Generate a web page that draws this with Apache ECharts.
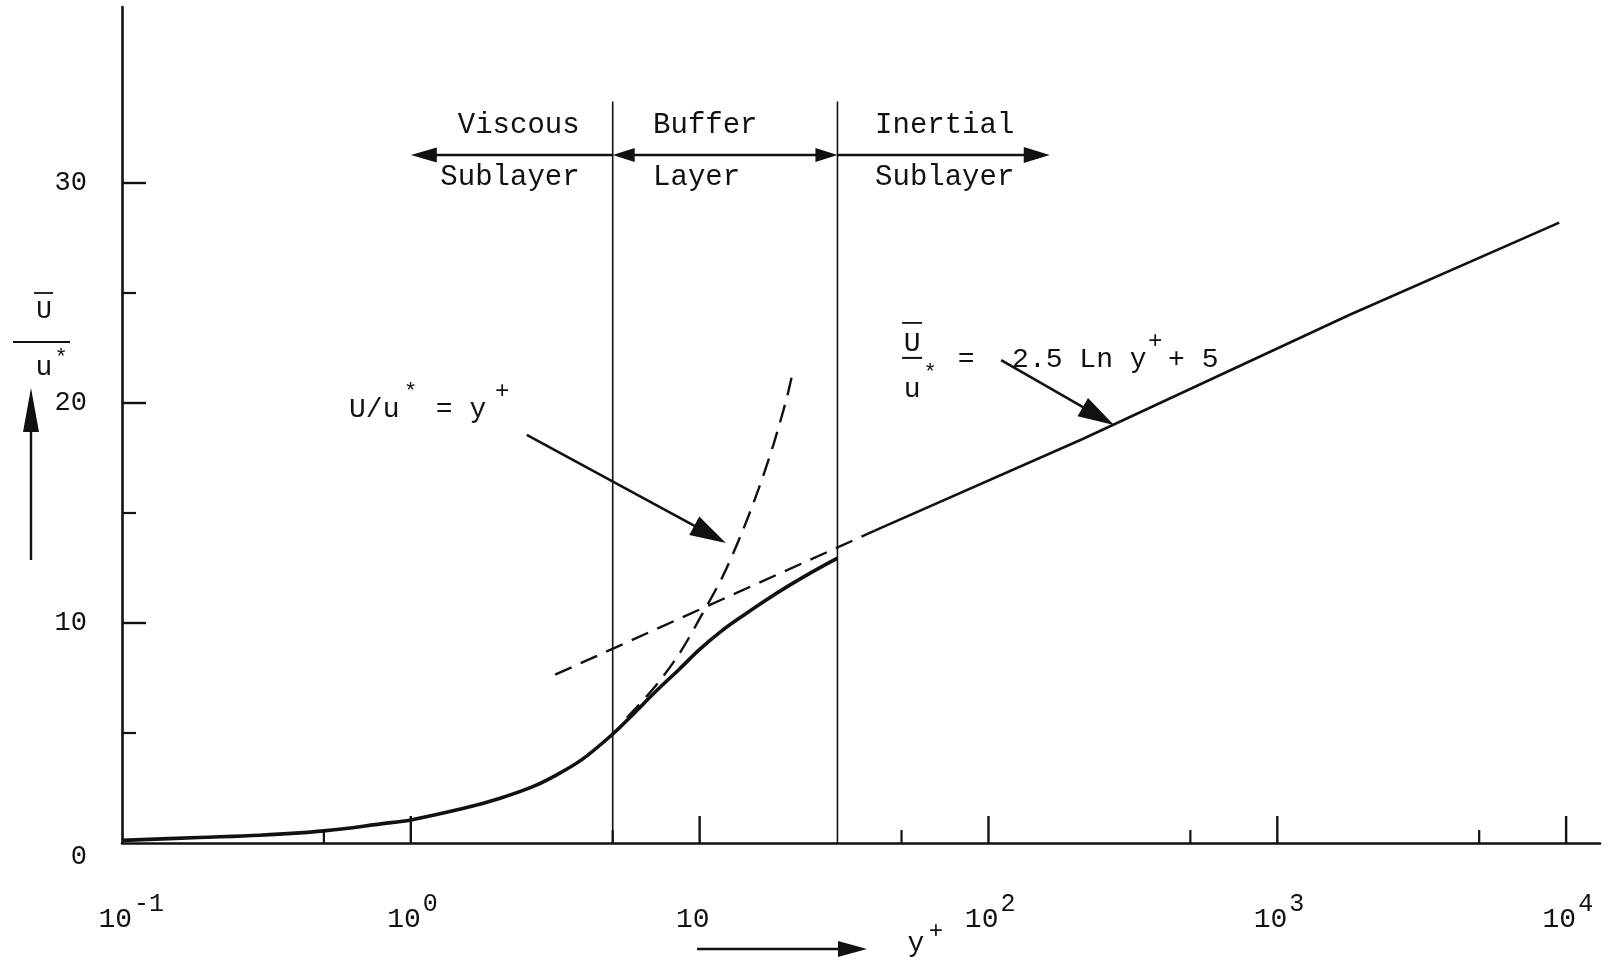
<!DOCTYPE html>
<html>
<head>
<meta charset="utf-8">
<script src="https://cdn.jsdelivr.net/npm/echarts@6/dist/echarts.min.js"></script>
<style>
  html, body { margin: 0; padding: 0; background: #fff; }
  #chart { width: 1616px; height: 966px; }
</style>
</head>
<body>
<div id="chart"></div>
<script>
// Mean velocity profile near a smooth wall: U/u* against y+ on a semi-log plot.

// Profile through the viscous sublayer and buffer layer
const profileYPlus = [0.1, 0.185, 0.3, 0.5, 0.8, 1.0, 1.55, 2.0, 2.63, 3.2, 3.92, 5.0, 5.83, 7.0, 8.5, 10.0, 11.8, 14.0, 17.0, 20.5, 25.0, 30.0];
const profileU     = [0.12, 0.25, 0.35, 0.55, 0.88, 1.05, 1.6, 2.0, 2.55, 3.1, 3.8, 4.95, 5.8, 6.85, 7.9, 8.8, 9.6, 10.3, 11.05, 11.72, 12.38, 12.95];

// Log law U/u* = 2.5 ln y+ + 5 (dashed extension, then solid)
const logLawDashYPlus = [3.16, 40.4];
const logLawDashU     = [7.65, 14.2];
const logLawYPlus = [40.4, 211, 1774, 9465];
const logLawU     = [14.2, 18.35, 24.0, 28.2];

// Linear law U/u* = y+ carried into the buffer layer
const linearLawYPlus = [5.6, 7.0, 8.5, 10.2, 12.0, 14.0, 16.0, 18.0, 20.0, 21.0];
const linearLawU     = [5.7, 7.1, 8.6, 10.4, 12.1, 14.1, 16.1, 18.1, 20.2, 21.4];

// Layer boundaries in y+
const regionBounds = [5, 30];
const regionNames = [['Viscous', 'Sublayer'], ['Buffer', 'Layer'], ['Inertial', 'Sublayer']];

// Axis ticks and labels
const xDecades = [0.1, 1, 10, 100, 1000, 10000];
const xHalfDecades = [0.5, 5, 50, 500, 5000];
const yMajorTicks = [10, 20, 30];
const yMinorTicks = [5, 15, 25];
const yLabels = [0, 10, 20, 30];

const INK = '#111';
const FONT = '"Liberation Mono", "DejaVu Sans Mono", monospace';

const zip = (xs, ys) => xs.map((x, i) => [x, ys[i]]);

function txt(t, x, y, size, align, vAlign) {
  return {
    type: 'text',
    style: {
      text: t, x: x, y: y, fill: INK, fontSize: size, fontFamily: FONT,
      align: align, textAlign: align, verticalAlign: vAlign, textVerticalAlign: vAlign
    }
  };
}
function seg(a, b, w) {
  return { type: 'line', shape: { x1: a[0], y1: a[1], x2: b[0], y2: b[1] },
           style: { stroke: INK, lineWidth: w, fill: null } };
}
function head(tip, ux, uy, len, wid) {
  const bx = tip[0] - ux * len, by = tip[1] - uy * len;
  return { type: 'polygon',
           shape: { points: [[tip[0], tip[1]], [bx - uy * wid / 2, by + ux * wid / 2], [bx + uy * wid / 2, by - ux * wid / 2]] },
           style: { fill: INK } };
}
// arrow from a to b, head at b (and optionally at a)
function arrow(els, a, b, len, wid, lw, both) {
  const dx = b[0] - a[0], dy = b[1] - a[1], L = Math.hypot(dx, dy);
  const ux = dx / L, uy = dy / L;
  const s = both ? [a[0] + ux * len * 0.7, a[1] + uy * len * 0.7] : a;
  const e = [b[0] - ux * len * 0.7, b[1] - uy * len * 0.7];
  els.push(seg(s, e, lw));
  els.push(head(b, ux, uy, len, wid));
  if (both) els.push(head(a, -ux, -uy, len, wid));
}

function renderDecor(params, api) {
  const P = (x, y) => api.coord([x, y]);
  const els = [];

  // x ticks (drawn upward from the axis)
  xDecades.filter(v => v > 0.1).forEach(v => { const p = P(v, 0); els.push(seg(p, [p[0], p[1] - 27], 2.4)); });
  xHalfDecades.forEach(v => { const p = P(v, 0); els.push(seg(p, [p[0], p[1] - 13], 2.2)); });
  // y ticks (drawn rightward from the axis)
  yMajorTicks.forEach(v => { const p = P(0.1, v); els.push(seg(p, [p[0] + 24, p[1]], 2.4)); });
  yMinorTicks.forEach(v => { const p = P(0.1, v); els.push(seg(p, [p[0] + 14, p[1]], 2.2)); });

  // x tick labels: 10 with a raised exponent
  xDecades.forEach(v => {
    const k = Math.round(Math.log10(v));
    const p = P(v, 0);
    els.push(txt('10', p[0] + 10, p[1] + 77, 28, 'right', 'middle'));
    if (k !== 1) els.push(txt(k < 0 ? '-' + (-k) : String(k), p[0] + 12, p[1] + 61, 25, 'left', 'middle'));
  });

  // layer boundaries
  regionBounds.forEach(b => els.push(seg(P(b, 0), P(b, 33.7), 1.6)));

  // layer names and extent arrows
  const rowTop = 32.64, rowBot = 30.27, rowArrow = 31.27;
  const v1 = P(3.84, rowTop), v2 = P(3.84, rowBot);
  els.push(txt(regionNames[0][0], v1[0], v1[1], 29, 'right', 'middle'));
  els.push(txt(regionNames[0][1], v2[0], v2[1], 29, 'right', 'middle'));
  const b1 = P(6.9, rowTop), b2 = P(6.9, rowBot);
  els.push(txt(regionNames[1][0], b1[0], b1[1], 29, 'left', 'middle'));
  els.push(txt(regionNames[1][1], b2[0], b2[1], 29, 'left', 'middle'));
  const i1 = P(40.5, rowTop), i2 = P(40.5, rowBot);
  els.push(txt(regionNames[2][0], i1[0], i1[1], 29, 'left', 'middle'));
  els.push(txt(regionNames[2][1], i2[0], i2[1], 29, 'left', 'middle'));
  arrow(els, P(regionBounds[0], rowArrow), P(1.0, rowArrow), 26, 15, 2.6, false);
  arrow(els, P(regionBounds[0], rowArrow), P(regionBounds[1], rowArrow), 22, 14, 2.6, true);
  arrow(els, P(regionBounds[1], rowArrow), P(163, rowArrow), 26, 16, 2.6, false);

  // note for the linear law
  const n1 = P(0.611, 19.68);
  els.push(txt('U/u', n1[0], n1[1], 28, 'left', 'middle'));
  els.push(txt('*', n1[0] + 55, n1[1] - 18, 22, 'left', 'middle'));
  els.push(txt(' = y', n1[0] + 70, n1[1], 28, 'left', 'middle'));
  els.push(txt('+', n1[0] + 146, n1[1] - 18, 24, 'left', 'middle'));
  arrow(els, P(2.52, 18.55), P(12.33, 13.64), 36, 21, 2.6, false);

  // note for the log law
  const n2 = P(54.4, 22.05);
  els.push(txt('U', n2[0], n2[1] - 14, 28, 'center', 'middle'));
  els.push(seg([n2[0] - 10, n2[1] - 35], [n2[0] + 10, n2[1] - 35], 1.8));
  els.push(seg([n2[0] - 10, n2[1]], [n2[0] + 10, n2[1]], 2));
  els.push(txt('u', n2[0], n2[1] + 32, 28, 'center', 'middle'));
  els.push(txt('*', n2[0] + 18, n2[1] + 15, 22, 'center', 'middle'));
  els.push(txt('=', n2[0] + 54, n2[1] + 2, 28, 'center', 'middle'));
  els.push(txt('2.5 Ln y', n2[0] + 100, n2[1] + 2, 28, 'left', 'middle'));
  els.push(txt('+', n2[0] + 236, n2[1] - 16, 24, 'left', 'middle'));
  els.push(txt('+ 5', n2[0] + 256, n2[1] + 2, 28, 'left', 'middle'));
  arrow(els, P(110.6, 21.95), P(272, 19.0), 36, 21, 2.6, false);

  return { type: 'group', children: els };
}

const chart = echarts.init(document.getElementById('chart'), null, { renderer: 'canvas' });
chart.setOption({
  backgroundColor: '#fff',
  animation: false,
  grid: { left: 122, right: 16, top: 7, bottom: 123, containLabel: false, outerBoundsMode: 'none' },
  xAxis: {
    type: 'log', logBase: 10, min: 0.1, max: 13100,
    axisLine: { show: true, lineStyle: { color: INK, width: 2.6 } },
    axisTick: { show: false }, axisLabel: { show: false }, splitLine: { show: false }
  },
  yAxis: {
    type: 'value', min: 0, max: 38, interval: 10,
    axisLine: { show: true, lineStyle: { color: INK, width: 2.6 } },
    axisTick: { show: false }, splitLine: { show: false },
    axisLabel: {
      margin: 35, fontSize: 27, fontFamily: FONT, color: INK,
      formatter: v => (yLabels.indexOf(v) < 0 ? '' : (v === 0 ? '{z|0}' : String(v))),
      rich: { z: { fontSize: 27, fontFamily: FONT, color: INK, padding: [28, 0, 0, 0] } }
    }
  },
  graphic: [
    // y axis title: U-bar over u*, with an upward arrow
    { type: 'text', x: 44, y: 311, style: { text: 'U', fontSize: 26, fontFamily: FONT, fill: INK, align: 'center', textAlign: 'center', verticalAlign: 'middle', textVerticalAlign: 'middle' } },
    { type: 'line', shape: { x1: 34, y1: 293, x2: 53, y2: 293 }, style: { stroke: INK, lineWidth: 1.8 } },
    { type: 'line', shape: { x1: 13, y1: 342, x2: 70, y2: 342 }, style: { stroke: INK, lineWidth: 2 } },
    { type: 'text', x: 44, y: 368, style: { text: 'u', fontSize: 28, fontFamily: FONT, fill: INK, align: 'center', textAlign: 'center', verticalAlign: 'middle', textVerticalAlign: 'middle' } },
    { type: 'text', x: 61, y: 358, style: { text: '*', fontSize: 22, fontFamily: FONT, fill: INK, align: 'center', textAlign: 'center', verticalAlign: 'middle', textVerticalAlign: 'middle' } },
    { type: 'line', shape: { x1: 31, y1: 560, x2: 31, y2: 420 }, style: { stroke: INK, lineWidth: 2.4 } },
    { type: 'polygon', shape: { points: [[31, 388], [23, 432], [39, 432]] }, style: { fill: INK } },
    // x axis title: arrow then y+
    { type: 'line', shape: { x1: 697, y1: 949, x2: 845, y2: 949 }, style: { stroke: INK, lineWidth: 2.4 } },
    { type: 'polygon', shape: { points: [[867, 949], [838, 941], [838, 957]] }, style: { fill: INK } },
    { type: 'text', x: 916, y: 944, style: { text: 'y', fontSize: 28, fontFamily: FONT, fill: INK, align: 'center', textAlign: 'center', verticalAlign: 'middle', textVerticalAlign: 'middle' } },
    { type: 'text', x: 936, y: 932, style: { text: '+', fontSize: 24, fontFamily: FONT, fill: INK, align: 'center', textAlign: 'center', verticalAlign: 'middle', textVerticalAlign: 'middle' } }
  ],
  series: [
    { name: 'profile', type: 'line', data: zip(profileYPlus, profileU), showSymbol: false, smooth: 0.35,
      lineStyle: { color: INK, width: 3.6 }, z: 3 },
    { name: 'log law', type: 'line', data: zip(logLawYPlus, logLawU), showSymbol: false,
      lineStyle: { color: INK, width: 2.6 }, z: 3 },
    { name: 'log law extension', type: 'line', data: zip(logLawDashYPlus, logLawDashU), showSymbol: false,
      lineStyle: { color: INK, width: 2.4, type: [18, 10] }, z: 3 },
    { name: 'linear law', type: 'line', data: zip(linearLawYPlus, linearLawU), showSymbol: false, smooth: 0.3,
      lineStyle: { color: INK, width: 2.4, type: [18, 10] }, z: 3 },
    { name: 'decor', type: 'custom', renderItem: renderDecor, data: [[1, 1]], clip: false, silent: true, z: 4 }
  ]
});
</script>
</body>
</html>
